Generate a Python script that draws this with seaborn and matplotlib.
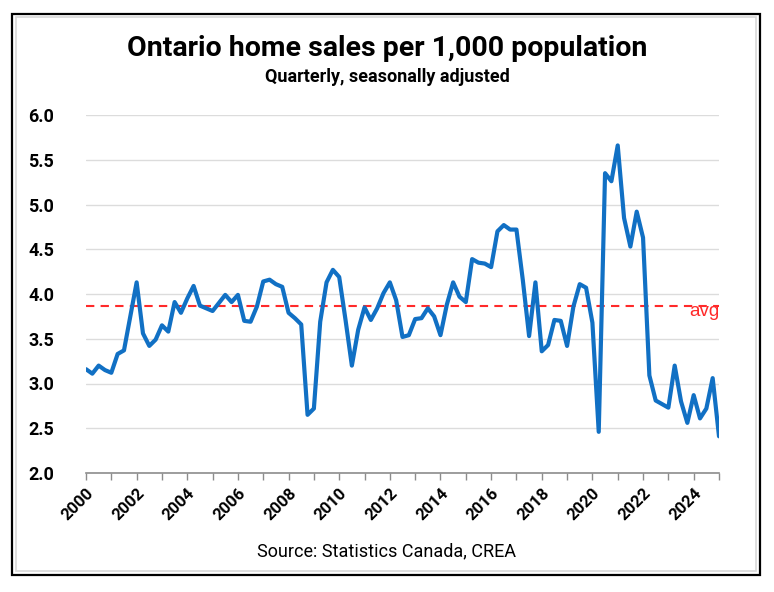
import numpy as np
import pandas as pd
import matplotlib
matplotlib.use("Agg")
import matplotlib.pyplot as plt
from matplotlib.patches import Rectangle
from matplotlib.ticker import MultipleLocator
import seaborn as sns

# ---- data ----
start_year = 2000
sales_per_1000 = [
    3.16, 3.11, 3.20, 3.15,   # 2000
    3.12, 3.33, 3.37, 3.75,   # 2001
    4.13, 3.56, 3.42, 3.49,   # 2002
    3.65, 3.58, 3.91, 3.79,   # 2003
    3.95, 4.09, 3.87, 3.84,   # 2004
    3.81, 3.90, 3.99, 3.91,   # 2005
    3.99, 3.70, 3.69, 3.86,   # 2006
    4.14, 4.16, 4.11, 4.08,   # 2007
    3.79, 3.73, 3.66, 2.65,   # 2008
    2.72, 3.69, 4.13, 4.27,   # 2009
    4.19, 3.71, 3.20, 3.60,   # 2010
    3.85, 3.71, 3.84, 4.01,   # 2011
    4.13, 3.93, 3.52, 3.54,   # 2012
    3.72, 3.73, 3.84, 3.75,   # 2013
    3.54, 3.88, 4.13, 3.97,   # 2014
    3.91, 4.39, 4.35, 4.34,   # 2015
    4.30, 4.70, 4.77, 4.72,   # 2016
    4.72, 4.16, 3.53, 4.13,   # 2017
    3.36, 3.43, 3.71, 3.70,   # 2018
    3.42, 3.86, 4.11, 4.07,   # 2019
    3.68, 2.46, 5.35, 5.26,   # 2020
    5.66, 4.85, 4.53, 4.92,   # 2021
    4.63, 3.09, 2.81, 2.77,   # 2022
    2.73, 3.20, 2.80, 2.56,   # 2023
    2.87, 2.61, 2.72, 3.06,   # 2024
    2.41,                     # 2025
]
average_value = 3.87
year_labels = list(range(2000, 2025, 2))
y_ticks = [2.0, 2.5, 3.0, 3.5, 4.0, 4.5, 5.0, 5.5, 6.0]

title = "Ontario home sales per 1,000 population"
subtitle = "Quarterly, seasonally adjusted"
source = "Source: Statistics Canada, CREA"

quarter_pos = [start_year + i / 4 for i in range(len(sales_per_1000))]
df = pd.DataFrame({"t": quarter_pos, "v": sales_per_1000})

# ---- figure ----
sns.set_theme(style="white")
plt.rcParams["font.family"] = ["Roboto", "DejaVu Sans"]
plt.rcParams["text.color"] = "black"
plt.rcParams["xtick.color"] = "black"
plt.rcParams["ytick.color"] = "black"
plt.rcParams["xtick.labelcolor"] = "black"
plt.rcParams["ytick.labelcolor"] = "black"

W, H = 774, 592
fig = plt.figure(figsize=(W / 100, H / 100), dpi=100)
fig.patch.set_facecolor("white")

# outer frame
fig.add_artist(Rectangle((12.5 / W, 1 - 575 / H), (760 - 12.5) / W, (575 - 13.5) / H,
                         transform=fig.transFigure, fill=False, edgecolor="black",
                         linewidth=1.6, zorder=0))
fig.add_artist(Rectangle((16 / W, 1 - 571 / H), (756 - 16) / W, (571 - 17) / H,
                         transform=fig.transFigure, fill=False, edgecolor="#d8d8d8",
                         linewidth=1.2, zorder=0))

ax_l, ax_r, ax_t, ax_b = 86, 719, 115, 473
ax = fig.add_axes([ax_l / W, 1 - ax_b / H, (ax_r - ax_l) / W, (ax_b - ax_t) / H])

sns.lineplot(data=df, x="t", y="v", ax=ax, color="#1170C4", linewidth=3.0,
             zorder=3, solid_joinstyle="round")
ax.axhline(average_value, color="#FF2A2A", linestyle=(0, (4, 3)), linewidth=1.5, zorder=2)
ax.text(2025.0, average_value - 0.07, "avg", color="#FF2A2A", fontsize=13.5,
        ha="right", va="center", family=["Liberation Sans", "DejaVu Sans"])

ax.set_xlim(2000, 2025)
ax.set_ylim(2.0, 6.0)
ax.set_yticks(y_ticks)
ax.set_yticklabels([f"{v:.1f}" for v in y_ticks], fontsize=13, fontweight="bold")
ax.set_xticks(year_labels)
ax.set_xticklabels([str(y) for y in year_labels], fontsize=12, fontweight="bold",
                   rotation=45, ha="right", rotation_mode="anchor")
ax.xaxis.set_minor_locator(MultipleLocator(1))
ax.set_xlabel("")
ax.set_ylabel("")

ax.grid(axis="y", color="#dcdcdc", linewidth=1.0)
ax.grid(axis="x", visible=False)
for s in ["top", "right", "left"]:
    ax.spines[s].set_visible(False)
ax.spines["bottom"].set_color("#8c8c8c")
ax.spines["bottom"].set_linewidth(1.2)
ax.tick_params(axis="x", which="both", direction="out", length=5, width=1.0,
               color="#8c8c8c", bottom=True, pad=4)
ax.tick_params(axis="y", length=0, pad=23)

fig.text(387 / W, 1 - 48 / H, title, ha="center", va="center", fontsize=20.5,
         fontweight="bold")
fig.text(387 / W, 1 - 77 / H, subtitle, ha="center", va="center", fontsize=13,
         fontweight="bold")
fig.text(387 / W, 1 - 551 / H, source, ha="center", va="center", fontsize=13)

fig.savefig("out.png", dpi=100)
